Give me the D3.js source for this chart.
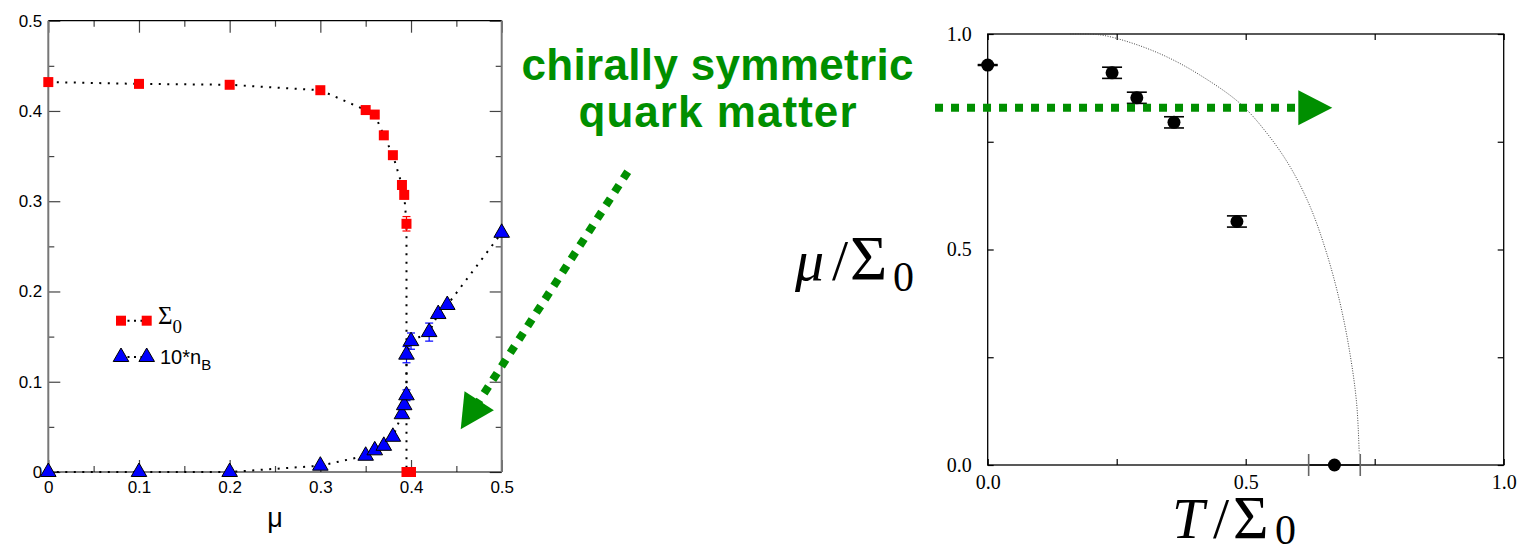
<!DOCTYPE html>
<html>
<head>
<meta charset="utf-8">
<script src="https://d3js.org/d3.v7.min.js"></script>
<style>
  body { margin: 0; background: #fff; }
</style>
</head>
<body>
<div id="viz"></div>
<script>
// left panel: Sigma_0 and 10*n_B against mu
var sigmaMu  = [0, 0.1, 0.2, 0.3, 0.35, 0.36, 0.37, 0.38, 0.39, 0.3925, 0.395, 0.395, 0.4];
var sigmaVal = [0.432, 0.430, 0.429, 0.423, 0.401, 0.396, 0.373, 0.351, 0.318, 0.307, 0.275, 0, 0];
var sigmaErr = [0, 0, 0, 0, 0, 0, 0, 0, 0.002, 0.004, 0.008, 0, 0];

var nbMu  = [0, 0.1, 0.2, 0.3, 0.35, 0.36, 0.37, 0.38, 0.39, 0.3925, 0.395, 0.395, 0.4, 0.42, 0.43, 0.44, 0.5];
var nbVal = [0, 0, 0, 0.007, 0.018, 0.024, 0.029, 0.039, 0.064, 0.074, 0.085, 0.130, 0.145, 0.155, 0.175, 0.185, 0.265];
var nbErr = [0, 0, 0, 0, 0, 0, 0, 0, 0, 0.003, 0.006, 0.009, 0.009, 0.010, 0, 0, 0];

var leftTicks = [0, 0.1, 0.2, 0.3, 0.4, 0.5];
var leftMinor = [0.05, 0.15, 0.25, 0.35, 0.45];

// right panel: mu/Sigma_0 against T/Sigma_0
var tVal  = [0.0, 0.241, 0.289, 0.361, 0.483, 0.672];
var muVal = [0.928, 0.910, 0.852, 0.795, 0.565, 0.0];
var muErr = [0.001, 0.013, 0.013, 0.013, 0.013, 0];
var tErr  = [0, 0, 0, 0, 0, 0.05];

var curveT  = [0.16, 0.218, 0.282, 0.347, 0.411, 0.489, 0.541, 0.586, 0.625, 0.657, 0.683, 0.702, 0.715, 0.720];
var curveMu = [1.0, 0.998, 0.978, 0.947, 0.905, 0.839, 0.770, 0.692, 0.599, 0.491, 0.375, 0.259, 0.143, 0.027];

var rightTicks = [0, 0.5, 1.0];
var rightMinor = [0.25, 0.75];

var green = '#008f00';
var sans = 'Liberation Sans, Arial, Helvetica, sans-serif';
var serif = 'Liberation Serif, Times New Roman, serif';

var svg = d3.select('#viz').append('svg')
    .attr('width', 1519)
    .attr('height', 554)
    .style('background', '#fff');

function styleAxis(g, family, size, col) {
    g.attr('font-family', family).attr('font-size', size);
    g.select('.domain').remove();
    g.selectAll('line').attr('stroke', col).attr('stroke-width', 1.2);
    g.selectAll('text').attr('fill', '#000');
}

// ---------- left panel ----------
var xL = d3.scaleLinear().domain([0, 0.5]).range([48.3, 501.7]);
var yL = d3.scaleLinear().domain([0, 0.5]).range([472, 20.7]);

var fmtL = function(d) { return d === 0 ? '0' : d3.format('.1f')(d); };

[[d3.axisBottom, xL, 472], [d3.axisTop, xL, 20.7]].forEach(function(a, i) {
    svg.append('g').attr('transform', 'translate(0,' + a[2] + ')')
        .call(a[0](a[1]).tickValues(leftTicks).tickSize(-12).tickPadding(9).tickFormat(i === 0 ? fmtL : ''))
        .call(styleAxis, sans, 17, '#444');
    svg.append('g').attr('transform', 'translate(0,' + a[2] + ')')
        .call(a[0](a[1]).tickValues(leftMinor).tickSize(-6).tickFormat(''))
        .call(styleAxis, sans, 10, '#444');
});
[[d3.axisLeft, 48.3], [d3.axisRight, 501.7]].forEach(function(a, i) {
    svg.append('g').attr('transform', 'translate(' + a[1] + ',0)')
        .call(a[0](yL).tickValues(leftTicks).tickSize(-12).tickPadding(6).tickFormat(i === 0 ? fmtL : ''))
        .call(styleAxis, sans, 17, '#444');
    svg.append('g').attr('transform', 'translate(' + a[1] + ',0)')
        .call(a[0](yL).tickValues(leftMinor).tickSize(-6).tickFormat(''))
        .call(styleAxis, sans, 10, '#444');
});

// frame
svg.append('line').attr('x1', 48.3).attr('x2', 501.7).attr('y1', 20.7).attr('y2', 20.7).attr('stroke', '#000').attr('stroke-width', 1.2);
svg.append('line').attr('x1', 48.3).attr('x2', 501.7).attr('y1', 472).attr('y2', 472).attr('stroke', '#000').attr('stroke-width', 1.2);
svg.append('line').attr('x1', 48.3).attr('x2', 48.3).attr('y1', 20.7).attr('y2', 472).attr('stroke', '#777').attr('stroke-width', 2);
svg.append('line').attr('x1', 501.7).attr('x2', 501.7).attr('y1', 20.7).attr('y2', 472).attr('stroke', '#777').attr('stroke-width', 2);

svg.append('text').attr('x', xL(0.25)).attr('y', 527).attr('text-anchor', 'middle')
    .style('font-family', sans).style('font-size', '27px').text('μ');

var sigmaData = sigmaMu.map(function(m, i) { return {x: m, y: sigmaVal[i], e: sigmaErr[i]}; });
var nbData = nbMu.map(function(m, i) { return {x: m, y: nbVal[i], e: nbErr[i]}; });

var lineL = d3.line().x(function(d) { return xL(d.x); }).y(function(d) { return yL(d.y); });

[sigmaData, nbData].forEach(function(data) {
    svg.append('path').datum(data).attr('d', lineL)
        .attr('fill', 'none').attr('stroke', '#000').attr('stroke-width', 2)
        .attr('stroke-dasharray', '2 6.5');
});

function errBars(data, color, cap) {
    var g = svg.append('g').attr('stroke', color).attr('stroke-width', 1.2);
    data.filter(function(d) { return d.e > 0; }).forEach(function(d) {
        var x = xL(d.x), y0 = yL(d.y - d.e), y1 = yL(d.y + d.e);
        g.append('line').attr('x1', x).attr('x2', x).attr('y1', y0).attr('y2', y1);
        g.append('line').attr('x1', x - cap).attr('x2', x + cap).attr('y1', y0).attr('y2', y0);
        g.append('line').attr('x1', x - cap).attr('x2', x + cap).attr('y1', y1).attr('y2', y1);
    });
}
errBars(sigmaData, '#ff0000', 4);
errBars(nbData, '#0000ff', 4);

var square = d3.symbol().type(d3.symbolSquare).size(100);
var tri = d3.symbol().type(d3.symbolTriangle).size(105);

svg.append('g').selectAll('path').data(sigmaData).enter().append('path')
    .attr('d', square)
    .attr('transform', function(d) { return 'translate(' + xL(d.x) + ',' + yL(d.y) + ')'; })
    .attr('fill', '#ff0000');

svg.append('g').selectAll('path').data(nbData).enter().append('path')
    .attr('d', tri)
    .attr('transform', function(d) { return 'translate(' + xL(d.x) + ',' + yL(d.y) + ')'; })
    .attr('fill', '#0000ff').attr('stroke', '#000').attr('stroke-width', 1);

// legend
var leg = svg.append('g');
[[320.7, square, '#ff0000', 'none'], [357, tri, '#0000ff', '#000']].forEach(function(r) {
    leg.append('line').attr('x1', 121).attr('x2', 147).attr('y1', r[0]).attr('y2', r[0])
        .attr('stroke', '#000').attr('stroke-width', 2).attr('stroke-dasharray', '2 4.5');
    [121, 146.7].forEach(function(x) {
        leg.append('path').attr('d', r[1]).attr('transform', 'translate(' + x + ',' + r[0] + ')')
            .attr('fill', r[2]).attr('stroke', r[3]);
    });
});
var t1 = leg.append('text').attr('x', 158).attr('y', 324).style('font-family', serif).style('font-size', '25px');
t1.append('tspan').text('Σ');
t1.append('tspan').attr('dy', 9).style('font-size', '19px').text('0');
var t2 = leg.append('text').attr('x', 160).attr('y', 364).style('font-family', sans).style('font-size', '20px');
t2.append('tspan').text('10*n');
t2.append('tspan').attr('dy', 6).style('font-size', '15px').text('B');

// ---------- right panel ----------
var xR = d3.scaleLinear().domain([0, 1]).range([987.7, 1503.7]);
var yR = d3.scaleLinear().domain([0, 1]).range([465, 34]);

var fmtR = d3.format('.1f');
[[d3.axisBottom, xR, 'translate(0,465)', 10], [d3.axisTop, xR, 'translate(0,34)', 0],
 [d3.axisLeft, yR, 'translate(987.7,0)', 16], [d3.axisRight, yR, 'translate(1503.7,0)', 0]].forEach(function(a) {
    svg.append('g').attr('transform', a[2])
        .call(a[0](a[1]).tickValues(rightTicks).tickSize(-6).tickPadding(a[3]).tickFormat(a[3] ? fmtR : ''))
        .call(styleAxis, serif, 20, '#000');
    svg.append('g').attr('transform', a[2])
        .call(a[0](a[1]).tickValues(rightMinor).tickSize(-6).tickFormat(''))
        .call(styleAxis, serif, 10, '#000');
});
svg.append('rect').attr('x', 987.7).attr('y', 34).attr('width', 516).attr('height', 431)
    .attr('fill', 'none').attr('stroke', '#000').attr('stroke-width', 1.3);

var curveData = curveT.map(function(t, i) { return [t, curveMu[i]]; });
svg.append('path').datum(curveData)
    .attr('d', d3.line().x(function(d) { return xR(d[0]); }).y(function(d) { return yR(d[1]); }).curve(d3.curveCatmullRom))
    .attr('fill', 'none').attr('stroke', '#444').attr('stroke-width', 1).attr('stroke-dasharray', '1 1.5');

var ptsR = tVal.map(function(t, i) { return {x: t, y: muVal[i], ey: muErr[i], ex: tErr[i]}; });
var eg = svg.append('g').attr('stroke', '#000').attr('stroke-width', 1.6);
ptsR.forEach(function(d) {
    var x = xR(d.x), y = yR(d.y);
    if (d.ey > 0) {
        var y0 = yR(d.y - d.ey), y1 = yR(d.y + d.ey);
        eg.append('line').attr('x1', x).attr('x2', x).attr('y1', y0).attr('y2', y1);
        eg.append('line').attr('x1', x - 10).attr('x2', x + 10).attr('y1', y0).attr('y2', y0);
        eg.append('line').attr('x1', x - 10).attr('x2', x + 10).attr('y1', y1).attr('y2', y1);
    }
    if (d.ex > 0) {
        var x0 = xR(d.x - d.ex), x1 = xR(d.x + d.ex);
        eg.append('line').attr('x1', x0).attr('x2', x1).attr('y1', y).attr('y2', y);
        eg.append('line').attr('x1', x0).attr('x2', x0).attr('y1', y - 11).attr('y2', y + 11).attr('stroke', '#666');
        eg.append('line').attr('x1', x1).attr('x2', x1).attr('y1', y - 11).attr('y2', y + 11).attr('stroke', '#666');
    }
});
svg.append('g').selectAll('circle').data(ptsR).enter().append('circle')
    .attr('cx', function(d) { return xR(d.x); })
    .attr('cy', function(d) { return yR(d.y); })
    .attr('r', 6.5).attr('fill', '#000');

// axis titles
var ty = svg.append('text').attr('y', 280).style('font-family', serif).style('font-size', '58px').attr('fill', '#000');
ty.append('tspan').attr('x', 795).style('font-style', 'italic').text('μ');
ty.append('tspan').attr('x', 832).text('/');
ty.append('tspan').attr('x', 850).style('font-size', '64px').text('Σ');
ty.append('tspan').attr('x', 893).attr('dy', 11).style('font-size', '42px').text('0');

var tx = svg.append('text').attr('y', 538).style('font-family', serif).style('font-size', '58px').attr('fill', '#000');
tx.append('tspan').attr('x', 1172).style('font-style', 'italic').text('T');
tx.append('tspan').attr('x', 1213).text('/');
tx.append('tspan').attr('x', 1233).style('font-size', '61px').text('Σ');
tx.append('tspan').attr('x', 1275).attr('dy', 6).style('font-size', '42px').text('0');

// ---------- annotations ----------
function arrow(p0, tip) {
    var dx = tip[0] - p0[0], dy = tip[1] - p0[1];
    var len = Math.sqrt(dx * dx + dy * dy), ux = dx / len, uy = dy / len;
    var head = 34, half = 17.5;
    var bx = tip[0] - ux * head, by = tip[1] - uy * head;
    svg.append('line').attr('x1', p0[0]).attr('y1', p0[1]).attr('x2', bx + ux * 2).attr('y2', by + uy * 2)
        .attr('stroke', green).attr('stroke-width', 8).attr('stroke-dasharray', '8 8');
    svg.append('path')
        .attr('d', 'M' + tip[0] + ',' + tip[1] + 'L' + (bx - uy * half) + ',' + (by + ux * half) +
                   'L' + (bx + uy * half) + ',' + (by - ux * half) + 'Z')
        .attr('fill', green);
}
arrow([xL(0.639), yL(0.3327)], [xL(0.4548), yL(0.0473)]);
arrow([xR(-0.1021), yR(0.829)], [xR(0.6678), yR(0.829)]);

var note = svg.append('g').attr('fill', green)
    .style('font-family', sans).style('font-weight', 'bold').style('font-size', '44px');
note.append('text').attr('x', 717.5).attr('y', 80).attr('text-anchor', 'middle')
    .attr('textLength', 392).attr('lengthAdjust', 'spacing').text('chirally symmetric');
note.append('text').attr('x', 717.5).attr('y', 127).attr('text-anchor', 'middle')
    .attr('textLength', 278).attr('lengthAdjust', 'spacing').text('quark matter');
</script>
</body>
</html>
